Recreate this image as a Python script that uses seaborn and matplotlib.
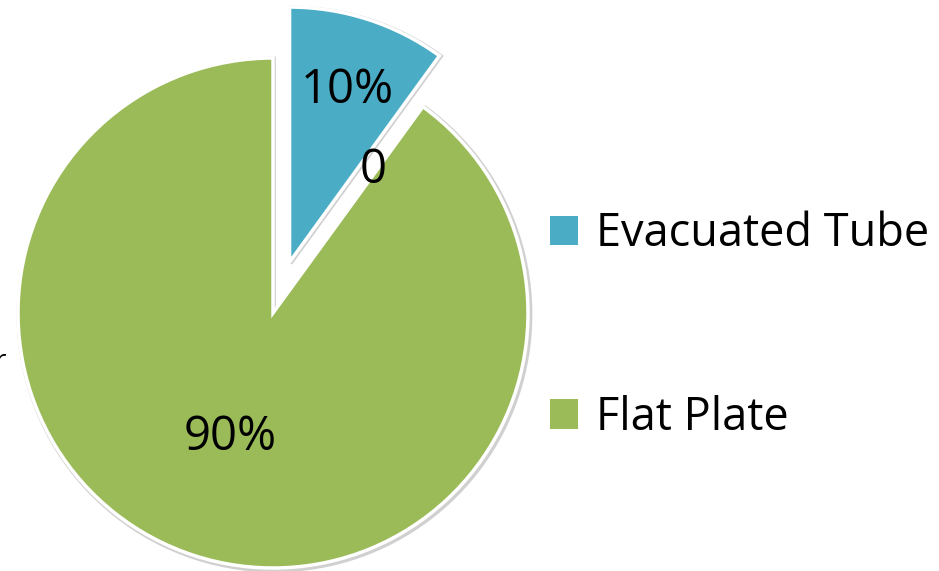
import matplotlib
matplotlib.use("Agg")
import matplotlib.pyplot as plt
import seaborn as sns

# Collector types and their shares (%)
categories = ["Evacuated Tube", "Flat Plate"]
shares = [10, 90]
share_labels = ["10%", "90%"]
colors = ["#4BACC6", "#9BBB59"]

sns.set_theme(style="white")
plt.rcParams["font.family"] = ["Open Sans", "DejaVu Sans"]
plt.rcParams["text.color"] = "black"

W, H = 939, 571
fig = plt.figure(figsize=(W / 100, H / 100), dpi=100)
ax = fig.add_axes([0, 0, 1, 1])

cx, cy, R = 273, 571 - 313, 255
# offset of the pulled-out wedge, in axis units (pixels here)
explode = [0.21 * R, 0.0]

# faint grey rim under the wedges, then the wedges with white borders
ax.pie(shares, explode=explode, startangle=90, counterclock=False,
       colors=["#d0d0d0", "#d0d0d0"], center=(cx + 1.5, cy - 1.5), radius=R + 1.5,
       wedgeprops=dict(edgecolor="#d0d0d0", linewidth=2))
wedges, _ = ax.pie(shares, explode=explode, startangle=90, counterclock=False,
                   colors=colors, center=(cx, cy), radius=R,
                   wedgeprops=dict(edgecolor="white", linewidth=2.5))

ax.set_xlim(0, W)
ax.set_ylim(0, H)
ax.axis("off")

# data labels
ax.text(347, H - 90, share_labels[0], fontsize=34, ha="center", va="center")
ax.text(230, H - 437, share_labels[1], fontsize=34, ha="center", va="center")
ax.text(373, H - 170, "0", fontsize=34, ha="center", va="center")
ax.text(6, H - 362, "r", fontsize=20, ha="right", va="center")

# legend swatches drawn without the white border
handles = [plt.Rectangle((0, 0), 1, 1, facecolor=c, edgecolor="none") for c in colors]
fig.legend(handles, categories, loc="center left", bbox_to_anchor=(550 / W, 1 - 326 / H),
           frameon=False, fontsize=32.5, handlelength=0.62, handleheight=0.62,
           handletextpad=0.4, labelspacing=3.05, borderaxespad=0, borderpad=0)

fig.savefig("out.png", dpi=100)
